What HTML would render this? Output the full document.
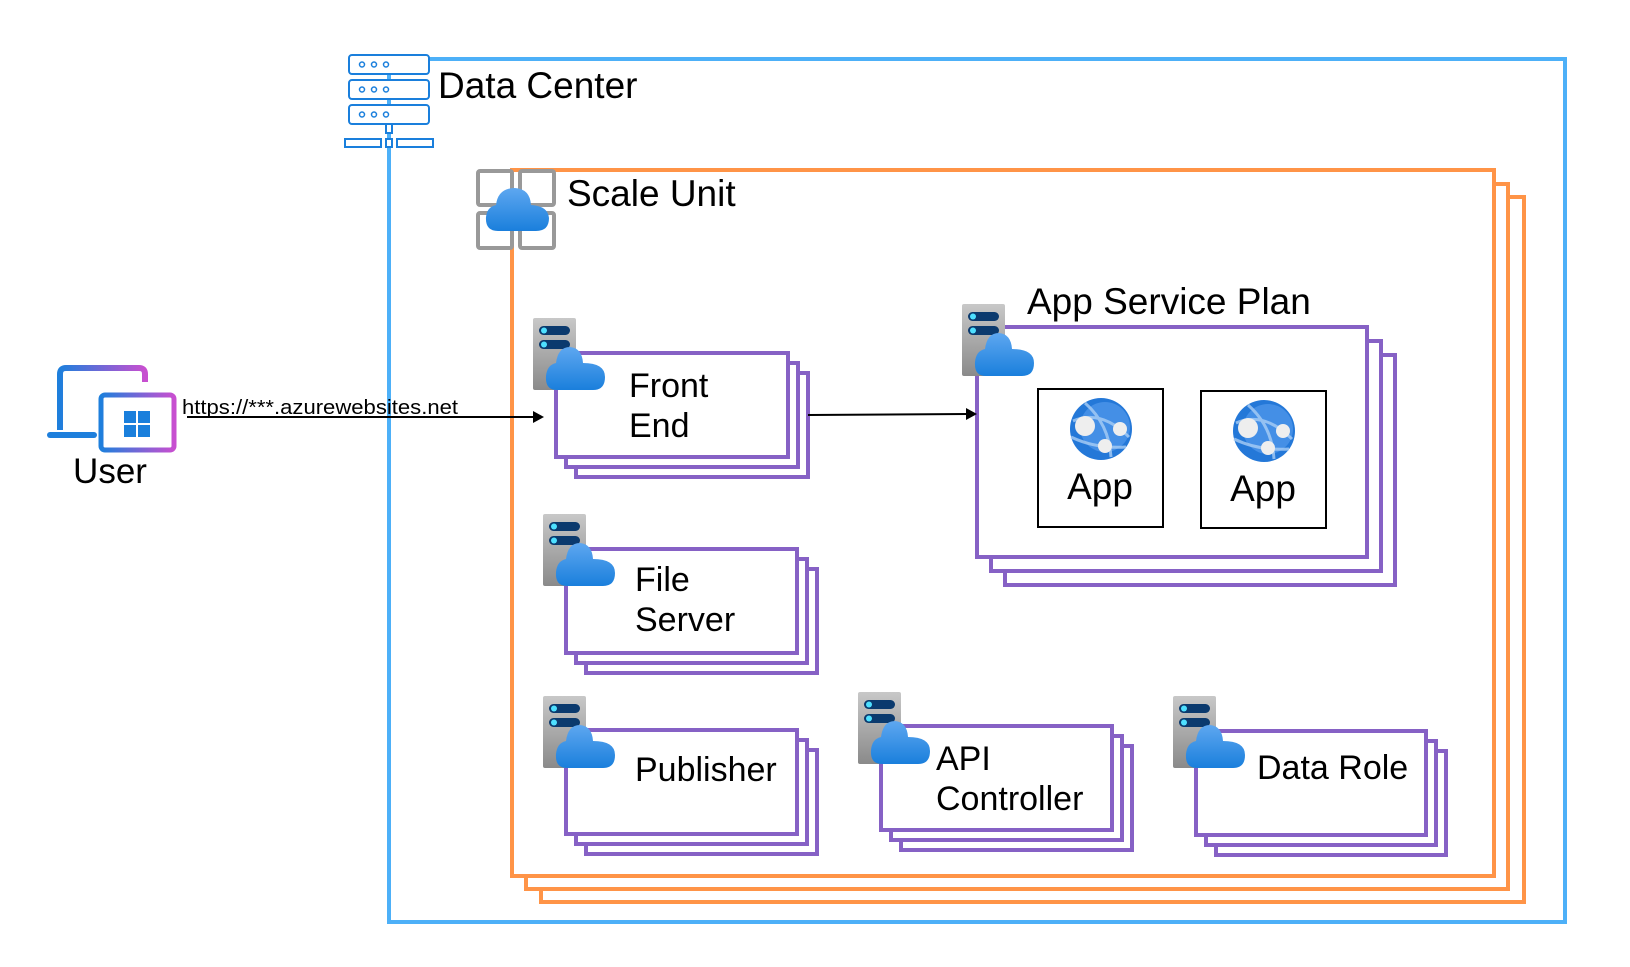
<!DOCTYPE html>
<html><head><meta charset="utf-8"><style>
html,body{margin:0;padding:0;background:#fff}
svg{display:block}
text{font-family:"Liberation Sans",sans-serif;fill:#000}
</style></head><body>
<svg width="1630" height="967" viewBox="0 0 1630 967" xmlns="http://www.w3.org/2000/svg">
<defs>
<linearGradient id="cg" x1="0" y1="0" x2="0" y2="1"><stop offset="0" stop-color="#5ea7f0"/><stop offset="1" stop-color="#1a7fdc"/></linearGradient>
<linearGradient id="sg" x1="0" y1="0" x2="0" y2="1"><stop offset="0" stop-color="#c8c8c8"/><stop offset="1" stop-color="#8a8a8a"/></linearGradient>
<linearGradient id="ug" x1="0" y1="0" x2="1" y2="0"><stop offset="0" stop-color="#1e7fdc"/><stop offset="1" stop-color="#c84fd0"/></linearGradient>
<g id="srv">
<rect x="0" y="0" width="43" height="72" rx="2" fill="url(#sg)"/>
<rect x="6" y="8" width="31" height="9" rx="4.5" fill="#0b3a6e"/>
<rect x="6" y="22" width="31" height="9" rx="4.5" fill="#0b3a6e"/>
<circle cx="11" cy="12.5" r="3" fill="#4ee0ff"/>
<circle cx="11" cy="26.5" r="3" fill="#4ee0ff"/>
<path d="M24 72 Q12 72 13 58 Q14 47 23 45 Q25 29 37 29 Q49 30 50 45 Q72 45 72 59 Q72 72 60 72 Z" fill="url(#cg)"/>
</g>
<g id="globe">
<circle cx="0" cy="0" r="31" fill="#2478d8"/>
<circle cx="4" cy="-2" r="25" fill="#5a9ef0" opacity="0.6"/>
<path d="M-28 -8 Q0 -20 28 8 M-16 -26 Q8 -5 10 28 M-30 8 Q-5 20 25 18" stroke="#a9cdf5" stroke-width="3" fill="none" opacity="0.8"/>
<circle cx="-16" cy="-3" r="10" fill="#eee"/>
<circle cx="19" cy="0" r="7" fill="#eee"/>
<circle cx="4" cy="17" r="7" fill="#eee"/>
</g>
</defs>

<rect x="389" y="59" width="1176" height="863" fill="none" stroke="#4db0f8" stroke-width="4"/>
<g fill="#fff" stroke="#1a7fdc" stroke-width="2">
<rect x="349" y="55" width="80" height="19" rx="3"/>
<rect x="349" y="80" width="80" height="19" rx="3"/>
<rect x="349" y="105" width="80" height="19" rx="3"/>
<rect x="386" y="124" width="6" height="9"/>
<rect x="345" y="139" width="36" height="8"/>
<rect x="386" y="139" width="6" height="8"/>
<rect x="397" y="139" width="36" height="8"/>
</g>
<g fill="none" stroke="#1a7fdc" stroke-width="1.5">
<circle cx="362" cy="64.5" r="2.5"/><circle cx="374" cy="64.5" r="2.5"/><circle cx="386" cy="64.5" r="2.5"/>
<circle cx="362" cy="89.5" r="2.5"/><circle cx="374" cy="89.5" r="2.5"/><circle cx="386" cy="89.5" r="2.5"/>
<circle cx="362" cy="114.5" r="2.5"/><circle cx="374" cy="114.5" r="2.5"/><circle cx="386" cy="114.5" r="2.5"/>
</g>
<text x="438" y="98" font-size="37">Data Center</text>

<g fill="none" stroke="#ff9447" stroke-width="4">
<rect x="541" y="197" width="983" height="705" fill="#fff"/>
<rect x="526" y="184" width="982" height="705" fill="#fff"/>
<rect x="512" y="170" width="982" height="706" fill="#fff"/>
</g>
<g fill="none" stroke="#999" stroke-width="4">
<rect x="478" y="171" width="34" height="34" rx="2"/>
<rect x="520" y="171" width="34" height="34" rx="2"/>
<rect x="478" y="213" width="34" height="35" rx="2"/>
<rect x="520" y="213" width="34" height="35" rx="2"/>
</g>
<path d="M498 231 Q485 231 486 217 Q487 207 496 205 Q498 188 515 188 Q530 189 531 205 Q548 206 549 218 Q549 231 536 231 Z" fill="url(#cg)"/>
<text x="567" y="206" font-size="37">Scale Unit</text>

<path d="M60 430 V374 Q60 368 66 368 H139 Q145 368 145 374 V382" fill="none" stroke="url(#ug)" stroke-width="6"/>
<rect x="47" y="432" width="50" height="6" rx="3" fill="#1e7fdc"/>
<rect x="101" y="395" width="73" height="55" rx="4" fill="#fff" stroke="url(#ug)" stroke-width="5"/>
<g fill="#1a7fdc"><rect x="124" y="411" width="12" height="12"/><rect x="138" y="411" width="12" height="12"/><rect x="124" y="425" width="12" height="12"/><rect x="138" y="425" width="12" height="12"/></g>
<text x="110" y="483" font-size="35" text-anchor="middle">User</text>
<text x="182" y="414" font-size="20.5" textLength="276" lengthAdjust="spacingAndGlyphs">https://***.azurewebsites.net</text>
<line x1="187" y1="417" x2="536" y2="417" stroke="#000" stroke-width="2"/>
<polygon points="544,417 533,411 533,423" fill="#000"/>

<g fill="#fff" stroke="#8661c5" stroke-width="4">
<rect x="576" y="373" width="232" height="104"/>
<rect x="566" y="363" width="232" height="104"/>
<rect x="556" y="353" width="232" height="104"/>
<rect x="586" y="569" width="231" height="104"/>
<rect x="576" y="559" width="231" height="104"/>
<rect x="566" y="549" width="231" height="104"/>
<rect x="586" y="750" width="231" height="104"/>
<rect x="576" y="740" width="231" height="104"/>
<rect x="566" y="730" width="231" height="104"/>
<rect x="901" y="746" width="231" height="104"/>
<rect x="891" y="736" width="231" height="104"/>
<rect x="881" y="726" width="231" height="104"/>
<rect x="1216" y="751" width="230" height="104"/>
<rect x="1206" y="741" width="230" height="104"/>
<rect x="1196" y="731" width="230" height="104"/>
<rect x="1005" y="355" width="390" height="230"/>
<rect x="991" y="341" width="390" height="230"/>
<rect x="977" y="327" width="390" height="230"/>
</g>
<use href="#srv" x="533" y="318"/>
<use href="#srv" x="543" y="514"/>
<use href="#srv" x="543" y="696"/>
<use href="#srv" x="858" y="692"/>
<use href="#srv" x="1173" y="696"/>
<use href="#srv" x="962" y="304"/>

<g font-size="34">
<text x="629" y="397">Front</text>
<text x="629" y="437">End</text>
<text x="635" y="591">File</text>
<text x="635" y="631">Server</text>
<text x="635" y="781">Publisher</text>
<text x="936" y="770">API</text>
<text x="936" y="810">Controller</text>
<text x="1257" y="779">Data Role</text>
</g>
<text x="1027" y="314" font-size="37">App Service Plan</text>

<line x1="808" y1="415" x2="968" y2="414" stroke="#000" stroke-width="2"/>
<polygon points="977,414 966,408 966,420" fill="#000"/>

<rect x="1038" y="389" width="125" height="138" fill="#fff" stroke="#000" stroke-width="2"/>
<rect x="1201" y="391" width="125" height="137" fill="#fff" stroke="#000" stroke-width="2"/>
<use href="#globe" x="1101" y="429"/>
<use href="#globe" x="1264" y="431"/>
<text x="1100" y="499" font-size="37" text-anchor="middle">App</text>
<text x="1263" y="501" font-size="37" text-anchor="middle">App</text>
</svg>
</body></html>
